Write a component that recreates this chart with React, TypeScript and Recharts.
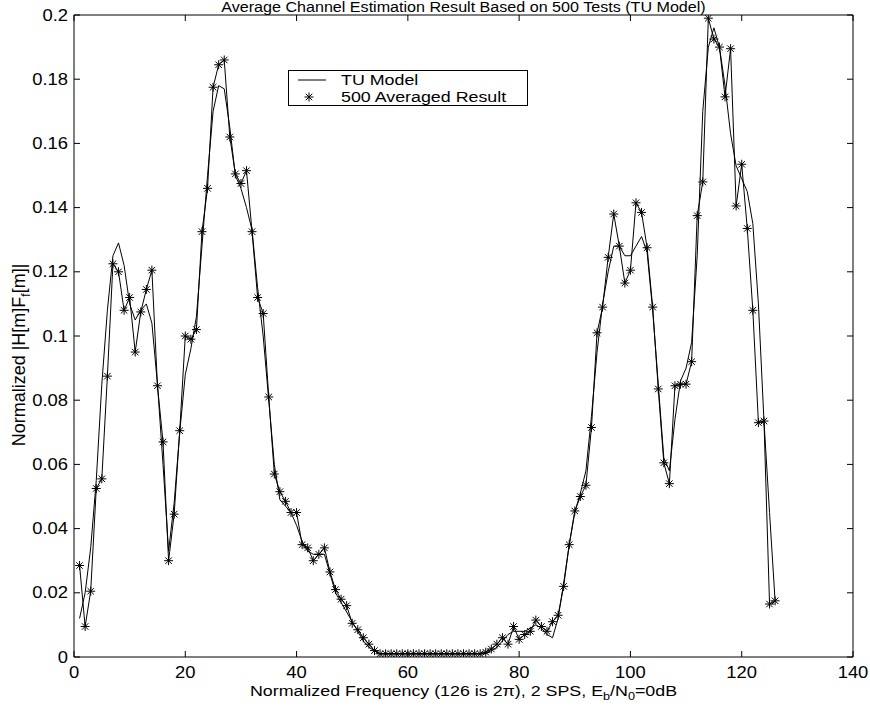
import React from 'react';
import { ComposedChart, Line, XAxis, YAxis } from 'recharts';

// normalized |H[m]F_f[m]| for m = 1..126
const tuModel = [
  0.012, 0.02, 0.034, 0.055, 0.085, 0.108, 0.125, 0.129, 0.122, 0.11,
  0.105, 0.108, 0.11, 0.104, 0.085, 0.06, 0.033, 0.048, 0.07, 0.088,
  0.096, 0.106, 0.128, 0.15, 0.17, 0.178, 0.177, 0.165, 0.15, 0.146,
  0.14, 0.133, 0.115, 0.1, 0.08, 0.06, 0.049, 0.047, 0.045, 0.041,
  0.036, 0.033, 0.032, 0.032, 0.032, 0.026, 0.02, 0.017, 0.014, 0.011,
  0.008, 0.005, 0.003, 0.002, 0.001, 0.001, 0.001, 0.001, 0.001, 0.001,
  0.001, 0.001, 0.001, 0.001, 0.001, 0.001, 0.001, 0.001, 0.001, 0.001,
  0.001, 0.001, 0.001, 0.001, 0.002, 0.003, 0.005, 0.007, 0.008, 0.008,
  0.008, 0.009, 0.01, 0.009, 0.007, 0.006, 0.012, 0.023, 0.035, 0.045,
  0.051, 0.058, 0.075, 0.095, 0.11, 0.12, 0.128, 0.128, 0.125, 0.125,
  0.128, 0.131, 0.126, 0.108, 0.085, 0.062, 0.058, 0.074, 0.086, 0.09,
  0.098, 0.125, 0.17, 0.19, 0.196, 0.19, 0.178, 0.163, 0.153, 0.149,
  0.145, 0.135, 0.11, 0.0735, 0.045, 0.0175,
];

const averaged = [
  0.0285, 0.0095, 0.0205, 0.0525, 0.0555, 0.0875, 0.1225, 0.12, 0.108, 0.112,
  0.095, 0.1075, 0.1145, 0.1205, 0.0845, 0.067, 0.03, 0.0445, 0.0705, 0.1,
  0.099, 0.102, 0.1325, 0.146, 0.1775, 0.1845, 0.186, 0.162, 0.1505, 0.1475,
  0.1515, 0.1325, 0.112, 0.107, 0.081, 0.057, 0.0515, 0.0485, 0.045, 0.045,
  0.035, 0.034, 0.03, 0.032, 0.034, 0.0265, 0.021, 0.018, 0.016, 0.0105,
  0.0085, 0.006, 0.004, 0.002, 0.001, 0.001, 0.001, 0.001, 0.001, 0.001,
  0.001, 0.001, 0.001, 0.001, 0.001, 0.001, 0.001, 0.001, 0.001, 0.001,
  0.001, 0.001, 0.001, 0.0015, 0.0025, 0.004, 0.006, 0.004, 0.0095, 0.0055,
  0.007, 0.008, 0.0115, 0.0095, 0.008, 0.011, 0.013, 0.022, 0.035, 0.0455,
  0.05, 0.0535, 0.0715, 0.101, 0.109, 0.1245, 0.138, 0.128, 0.1165, 0.1205,
  0.1415, 0.1385, 0.1275, 0.109, 0.0835, 0.0605, 0.054, 0.0845, 0.085, 0.085,
  0.092, 0.1375, 0.148, 0.199, 0.1925, 0.19, 0.1745, 0.1895, 0.1405, 0.1535,
  0.1335, 0.108, 0.073, 0.0735, 0.0165, 0.0175,
];

const xTicks = [0, 20, 40, 60, 80, 100, 120, 140];
const yTicks = [0, 0.02, 0.04, 0.06, 0.08, 0.1, 0.12, 0.14, 0.16, 0.18, 0.2];

const rows = tuModel.map((tu, i) => ({ m: i + 1, tu, avg: averaged[i] }));

const FONT = '"Liberation Sans", Arial, Helvetica, sans-serif';
const SX = 1.15; // the picture's text is a little wide
const TM = 6; // gap between axis and label
const TL = 6; // inward tick length

const BottomTick = ({ x, y, payload }: any) => (
  <g>
    <line x1={x} y1={y - TM} x2={x} y2={y - TM - TL} stroke="#000" />
    <text
      transform={`translate(${x},${y + 3}) scale(${SX},1)`}
      dy="0.75em"
      textAnchor="middle"
      fontSize={16}
      fontFamily={FONT}
      fill="#000"
    >
      {payload.value}
    </text>
  </g>
);

const LeftTick = ({ x, y, payload }: any) => (
  <g>
    <line x1={x + TM} y1={y} x2={x + TM + TL} y2={y} stroke="#000" />
    <text
      transform={`translate(${x},${y}) scale(${SX},1)`}
      dy="0.35em"
      textAnchor="end"
      fontSize={16}
      fontFamily={FONT}
      fill="#000"
    >
      {payload.value}
    </text>
  </g>
);

const TopTick = ({ x, y }: any) => (
  <line x1={x} y1={y + TM} x2={x} y2={y + TM + TL} stroke="#000" />
);

const RightTick = ({ x, y }: any) => (
  <line x1={x - TM} y1={y} x2={x - TM - TL} y2={y} stroke="#000" />
);

const Star = ({ cx, cy, r = 4.5 }: any) => {
  if (cx == null || cy == null) return null;
  const d = r * 0.72;
  return (
    <path
      d={`M${cx - r},${cy}H${cx + r}M${cx},${cy - r}V${cy + r}M${cx - d},${cy - d}L${cx + d},${cy + d}M${cx - d},${cy + d}L${cx + d},${cy - d}`}
      stroke="#000"
      strokeWidth={1}
      fill="none"
    />
  );
};

const wide = (origin: string): React.CSSProperties => ({
  transform: `scaleX(${SX})`,
  transformOrigin: origin,
});

export default function App() {
  return (
    <div style={{ position: 'relative', width: 870, height: 711, background: '#fff', fontFamily: FONT, overflow: 'hidden' }}>
      <style>{'body{margin:0}'}</style>
      <ComposedChart width={870} height={711} data={rows} margin={{ top: 0, right: 0, bottom: 0, left: 0 }}>
        <XAxis
          xAxisId="b"
          dataKey="m"
          type="number"
          domain={[0, 140]}
          ticks={xTicks}
          height={54}
          tickSize={0}
          tickMargin={TM}
          tick={<BottomTick />}
          axisLine={{ stroke: '#000' }}
          allowDataOverflow
        />
        <XAxis
          xAxisId="t"
          orientation="top"
          dataKey="m"
          type="number"
          domain={[0, 140]}
          ticks={xTicks}
          height={15}
          tickSize={0}
          tickMargin={TM}
          tick={<TopTick />}
          axisLine={{ stroke: '#000' }}
          allowDataOverflow
        />
        <YAxis
          yAxisId="l"
          type="number"
          domain={[0, 0.2]}
          ticks={yTicks}
          width={74}
          tickSize={0}
          tickMargin={TM}
          tick={<LeftTick />}
          axisLine={{ stroke: '#000' }}
          allowDataOverflow
        />
        <YAxis
          yAxisId="r"
          orientation="right"
          type="number"
          domain={[0, 0.2]}
          ticks={yTicks}
          width={17}
          tickSize={0}
          tickMargin={TM}
          tick={<RightTick />}
          axisLine={{ stroke: '#000' }}
          allowDataOverflow
        />
        <Line
          xAxisId="b"
          yAxisId="l"
          type="linear"
          dataKey="tu"
          name="TU Model"
          stroke="#000"
          strokeWidth={1}
          dot={false}
          isAnimationActive={false}
        />
        <Line
          xAxisId="b"
          yAxisId="l"
          type="linear"
          dataKey="avg"
          name="500 Averaged Result"
          stroke="#000"
          strokeWidth={1}
          dot={(p: any) => <Star key={`s${p.index}`} cx={p.cx} cy={p.cy} />}
          isAnimationActive={false}
        />
      </ComposedChart>

      <div
        style={{
          position: 'absolute',
          top: 0,
          left: 74,
          width: 779,
          textAlign: 'center',
          fontSize: 14,
          lineHeight: '14px',
          ...wide('50% 50%'),
        }}
      >
        Average Channel Estimation Result Based on 500 Tests (TU Model)
      </div>

      <div
        style={{
          position: 'absolute',
          top: 681,
          left: 74,
          width: 779,
          textAlign: 'center',
          fontSize: 15.5,
          lineHeight: '19px',
          ...wide('50% 50%'),
        }}
      >
        Normalized Frequency (126 is 2π), 2 SPS, E<sub style={{ fontSize: 11 }}>b</sub>/N<sub style={{ fontSize: 11 }}>0</sub>=0dB
      </div>

      <div
        style={{
          position: 'absolute',
          left: 21,
          top: 355,
          transform: 'translate(-50%, -50%) rotate(-90deg)',
          whiteSpace: 'nowrap',
          fontSize: 18,
        }}
      >
        Normalized |H[m]F<sub style={{ fontSize: 12 }}>f</sub>[m]|
      </div>

      <div
        style={{
          position: 'absolute',
          left: 288,
          top: 70,
          width: 238,
          height: 34,
          border: '1px solid #000',
          background: '#fff',
          fontSize: 15.5,
          lineHeight: '17px',
        }}
      >
        <div style={{ display: 'flex', alignItems: 'center', height: 17 }}>
          <svg width={52} height={17} style={{ flex: 'none' }}>
            <line x1={9} y1={9} x2={37} y2={9} stroke="#000" />
          </svg>
          <span style={wide('0 50%')}>TU Model</span>
        </div>
        <div style={{ display: 'flex', alignItems: 'center', height: 17 }}>
          <svg width={52} height={17} style={{ flex: 'none' }}>
            <Star cx={20} cy={9} />
          </svg>
          <span style={{ whiteSpace: 'nowrap', ...wide('0 50%') }}>500 Averaged Result</span>
        </div>
      </div>
    </div>
  );
}
